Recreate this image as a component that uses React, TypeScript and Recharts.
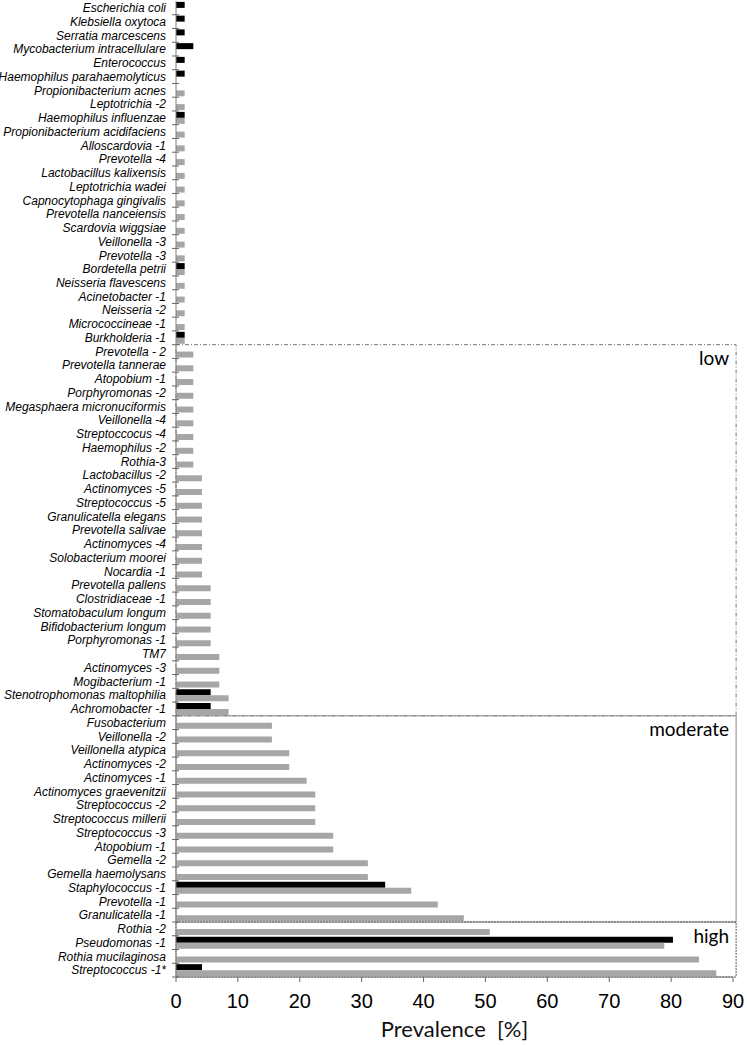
import React from 'react';
import {
  BarChart, Bar, XAxis, YAxis, ReferenceArea,
} from 'recharts';

const categories = [
  'Escherichia coli', 'Klebsiella oxytoca', 'Serratia marcescens', 'Mycobacterium intracellulare',
  'Enterococcus', 'Haemophilus parahaemolyticus', 'Propionibacterium acnes', 'Leptotrichia -2',
  'Haemophilus influenzae', 'Propionibacterium acidifaciens', 'Alloscardovia -1', 'Prevotella -4',
  'Lactobacillus kalixensis', 'Leptotrichia wadei', 'Capnocytophaga gingivalis', 'Prevotella nanceiensis',
  'Scardovia wiggsiae', 'Veillonella -3', 'Prevotella -3', 'Bordetella petrii',
  'Neisseria flavescens', 'Acinetobacter -1', 'Neisseria -2', 'Micrococcineae -1',
  'Burkholderia -1', 'Prevotella - 2', 'Prevotella tannerae', 'Atopobium -1',
  'Porphyromonas -2', 'Megasphaera micronuciformis', 'Veillonella -4', 'Streptoccocus -4',
  'Haemophilus -2', 'Rothia-3', 'Lactobacillus -2', 'Actinomyces -5',
  'Streptococcus -5', 'Granulicatella elegans', 'Prevotella salivae', 'Actinomyces -4',
  'Solobacterium moorei', 'Nocardia -1', 'Prevotella pallens', 'Clostridiaceae -1',
  'Stomatobaculum longum', 'Bifidobacterium longum', 'Porphyromonas -1', 'TM7',
  'Actinomyces -3', 'Mogibacterium -1', 'Stenotrophomonas maltophilia', 'Achromobacter -1',
  'Fusobacterium', 'Veillonella -2', 'Veillonella atypica', 'Actinomyces -2',
  'Actinomyces -1', 'Actinomyces graevenitzii', 'Streptococcus -2', 'Streptococcus millerii',
  'Streptococcus -3', 'Atopobium -1', 'Gemella -2', 'Gemella haemolysans',
  'Staphylococcus -1', 'Prevotella -1', 'Granulicatella -1', 'Rothia -2',
  'Pseudomonas -1', 'Rothia mucilaginosa', 'Streptococcus -1*',
];

// black series (null = no bar)
const blackValues: (number | null)[] = [
  1.4, 1.4, 1.4, 2.8, 1.4, 1.4, null, null,
  1.4, null, null, null, null, null, null, null,
  null, null, null, 1.4, null, null, null, null,
  1.4, null, null, null, null, null, null, null,
  null, null, null, null, null, null, null, null,
  null, null, null, null, null, null, null, null,
  null, null, 5.6, 5.6, null, null, null, null,
  null, null, null, null, null, null, null, null,
  33.8, null, null, null, 80.3, null, 4.2,
];

// grey series
const greyValues: (number | null)[] = [
  null, null, null, null, null, null, 1.4, 1.4,
  1.4, 1.4, 1.4, 1.4, 1.4, 1.4, 1.4, 1.4,
  1.4, 1.4, 1.4, 1.4, 1.4, 1.4, 1.4, 1.4,
  1.4, 2.8, 2.8, 2.8, 2.8, 2.8, 2.8, 2.8,
  2.8, 2.8, 4.2, 4.2, 4.2, 4.2, 4.2, 4.2,
  4.2, 4.2, 5.6, 5.6, 5.6, 5.6, 5.6, 7.0,
  7.0, 7.0, 8.5, 8.5, 15.5, 15.5, 18.3, 18.3,
  21.1, 22.5, 22.5, 22.5, 25.4, 25.4, 31.0, 31.0,
  38.0, 42.3, 46.5, 50.7, 78.9, 84.5, 87.3,
];

const xTicks = [0, 10, 20, 30, 40, 50, 60, 70, 80, 90];

// group limits (first / last category of each box)
const groups = [
  { name: 'low', from: 25, to: 51 },
  { name: 'moderate', from: 52, to: 66 },
  { name: 'high', from: 67, to: 70 },
];

const data = categories.map((c, i) => ({
  key: 'c' + i,
  black: blackValues[i],
  grey: greyValues[i],
}));

const W = 747;
const H = 1045;
const TOP = 1;
const AXIS_H = 68;
const BAND = (H - TOP - AXIS_H) / categories.length;
const ARIAL = "Arial, 'Liberation Sans', sans-serif";

function CatTick(props: any) {
  const { x, y, payload } = props;
  const i = Number(String(payload.value).slice(1));
  return (
    <g>
      <text x={x} y={y} dy={4.2} textAnchor="end" fontSize={12} fontStyle="italic"
        fontFamily={ARIAL} fill="#000">
        {categories[i]}
      </text>
      <line x1={x + 6} x2={x + 13} y1={y + BAND / 2} y2={y + BAND / 2} stroke="#666" />
    </g>
  );
}

function NumTick(props: any) {
  const { x, y, payload } = props;
  return (
    <text x={x} y={y} dy={22} textAnchor="middle" fontSize={20} fontFamily={ARIAL} fill="#000">
      {payload.value}
    </text>
  );
}

const boxStyle: Record<string, any> = {
  low: { stroke: '#777', strokeDasharray: '4 2 1 2' },
  moderate: { stroke: '#888', strokeDasharray: undefined },
  high: { stroke: '#555', strokeDasharray: '2 1' },
};

export default function App() {
  return (
    <div style={{ position: 'absolute', left: 0, top: 0, background: '#fff' }}>
      <BarChart
        width={W}
        height={H}
        data={data}
        layout="vertical"
        margin={{ top: TOP, right: 14, bottom: 0, left: 0 }}
        barCategoryGap={0.9}
        barGap={0}
      >
        <XAxis
          type="number"
          domain={[0, 90]}
          ticks={xTicks}
          height={AXIS_H}
          tick={<NumTick />}
          tickSize={5}
          tickMargin={4}
          tickLine={{ stroke: '#666' }}
          axisLine={{ stroke: '#777' }}
          label={{ value: 'Prevalence\u00a0\u00a0[%]', position: 'insideBottom', offset: 8, fontSize: 22, fontFamily: 'Lato, sans-serif', fill: '#111' }}
        />
        <YAxis
          type="category"
          dataKey="key"
          width={176}
          interval={0}
          tick={<CatTick />}
          tickSize={0}
          tickMargin={10}
          tickLine={false}
          axisLine={{ stroke: '#808080' }}
        />
        {groups.map(g => (
          <ReferenceArea
            key={g.name}
            y1={'c' + g.from}
            y2={'c' + g.to}
            x1={0}
            x2={90.5}
            ifOverflow="visible"
            fill="none"
            stroke={boxStyle[g.name].stroke}
            strokeDasharray={boxStyle[g.name].strokeDasharray}
            label={{ value: g.name, position: 'insideTopRight', offset: 7, fontSize: 19, fontFamily: 'Lato, sans-serif', fill: '#000' }}
          />
        ))}
        <Bar dataKey="black" fill="#000" isAnimationActive={false} />
        <Bar dataKey="grey" fill="#a6a6a6" isAnimationActive={false} />
      </BarChart>
    </div>
  );
}
